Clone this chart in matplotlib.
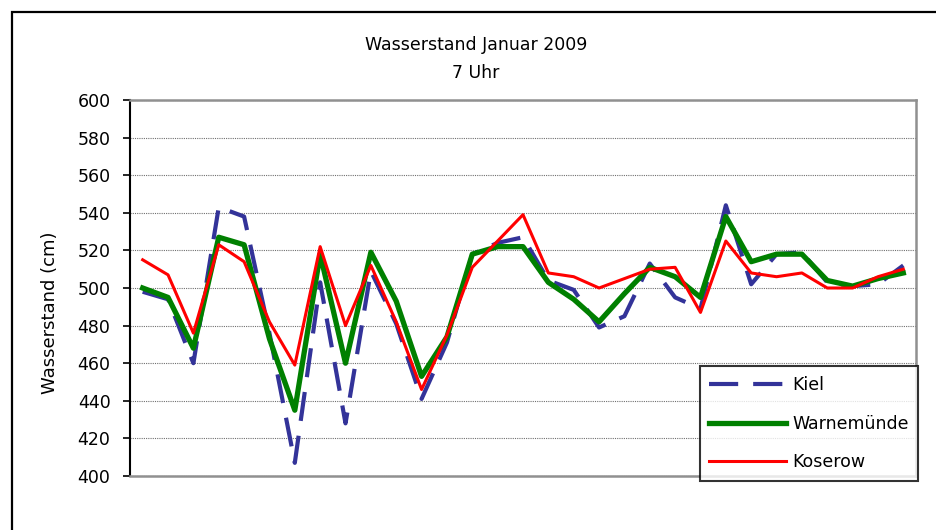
import matplotlib
matplotlib.use("Agg")
import matplotlib.pyplot as plt
from matplotlib.patches import Rectangle

days = list(range(1, 32))
kiel = [498, 494, 460, 543, 538, 476, 407, 503, 428, 509, 481, 441, 471, 518, 524, 527,
        504, 499, 479, 485, 513, 495, 489, 544, 502, 518, 519, 503, 501, 502, 512]
warnemuende = [500, 495, 468, 527, 523, 473, 435, 518, 460, 519, 493, 453, 474, 518, 522, 522,
               503, 494, 482, 497, 511, 506, 495, 538, 514, 518, 518, 504, 501, 505, 508]
koserow = [515, 507, 476, 523, 514, 482, 459, 522, 480, 512, 482, 446, 475, 511, 525, 539,
           508, 506, 500, 505, 510, 511, 487, 525, 508, 506, 508, 500, 500, 506, 510]
yticks = list(range(400, 601, 20))

plt.rcParams['font.family'] = ['DejaVu Sans']
W, H = 936, 530
fig = plt.figure(figsize=(W / 100, H / 100), dpi=100)
ax = fig.add_axes([130 / W, 1 - 476 / H, 786 / W, 376 / H])

ax.plot(days, kiel, color='#333399', lw=3.0, dashes=(7, 3.6), label='Kiel', zorder=3)
ax.plot(days, warnemuende, color='#008000', lw=3.8, label='Warnemünde', zorder=4)
ax.plot(days, koserow, color='#FF0000', lw=2.2, label='Koserow', zorder=5)

ax.set_xlim(0.5, 31.5)
ax.set_ylim(400, 600)
ax.set_yticks(yticks)
ax.set_xticks([])
ax.tick_params(axis='y', direction='out', length=5, width=1.2, pad=9, labelsize=12.5, color='black')
ax.yaxis.grid(True, linestyle=(0, (1, 1)), color='#707070', linewidth=0.8)
ax.set_axisbelow(True)
for s in ['top', 'right', 'bottom']:
    ax.spines[s].set_color('#909090')
    ax.spines[s].set_linewidth(1.8)
ax.spines['left'].set_color('black')
ax.spines['left'].set_linewidth(1.5)

fig.text(476 / W, 1 - 45 / H, 'Wasserstand Januar 2009', ha='center', va='center', fontsize=12.5)
fig.text(476 / W, 1 - 73 / H, '7 Uhr', ha='center', va='center', fontsize=12.5)
fig.text(50 / W, 1 - 313 / H, 'Wasserstand (cm)', ha='center', va='center', rotation=90, fontsize=13)

leg = ax.legend(loc='lower right', bbox_to_anchor=(918 / W, 1 - 481 / H), bbox_transform=fig.transFigure,
                borderaxespad=0, frameon=True, fancybox=False, shadow=False, fontsize=12.5,
                handlelength=4.4, handletextpad=0.35, labelspacing=1.2, borderpad=0.55)
leg.get_frame().set_edgecolor('black')
leg.get_frame().set_linewidth(1.5)
leg.set_zorder(10)

fig.patches.append(Rectangle((12 / W, -0.1), 1.2, 1 - 12 / H + 0.1, transform=fig.transFigure,
                             fill=False, edgecolor='black', linewidth=1.6, zorder=0))

fig.savefig('out.png', dpi=100)
